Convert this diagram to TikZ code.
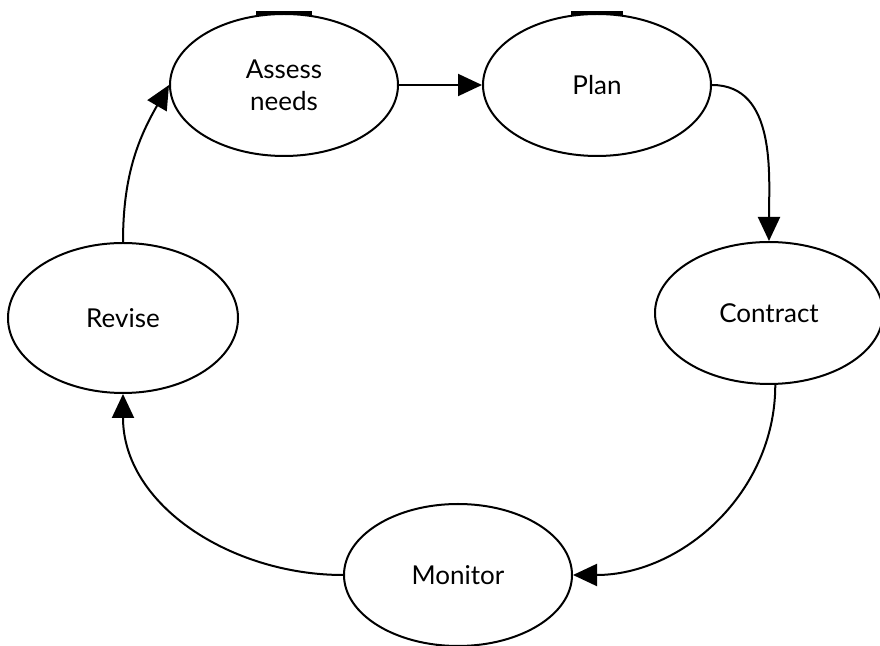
\documentclass[tikz,border=0pt]{standalone}
\usepackage{fontspec}
\setmainfont{Lato}
\usetikzlibrary{arrows.meta,shapes.geometric}

\begin{document}
\begin{tikzpicture}[
  x=0.5pt, y=-0.5pt,
  stage/.style={draw=black, fill=white, ellipse, line width=1pt, minimum width=114pt, minimum height=71pt, align=center, font=\fontsize{13}{16}\selectfont, inner sep=1pt},
  arr/.style={-{Triangle[length=12pt,width=11pt]}, line width=1pt, black}
]
\useasboundingbox (0,0) rectangle (880,646);

\node[stage] (assess) at (284,85) {Assess\\needs};
\node[stage] (plan) at (597,85) {Plan};
\node[stage] (contract) at (769,313) {Contract};
\node[stage] (monitor) at (458,575) {Monitor};
\node[stage, minimum width=115pt, minimum height=75pt] (revise) at (123,318) {Revise};

% darker bits on the outlines
\draw[line width=2pt] (assess.north) ++(-28,0) -- ++(56,0);
\draw[line width=2pt] (plan.north) ++(-26,0) -- ++(52,0);
\draw[line width=2pt] (monitor.south) ++(-22,0) -- ++(42,0);

\draw[arr] (assess) -- (plan);
\draw[arr] (plan.east) to[out=0,in=90] (contract.north);
\draw[arr] (contract.-85) to[out=-90,in=0] (monitor.east);
\draw[arr] (monitor.west) to[out=180,in=-90] (revise.south);
\draw[arr] (revise.north) to[out=90,in=-120] (assess.west);
\end{tikzpicture}
\end{document}
